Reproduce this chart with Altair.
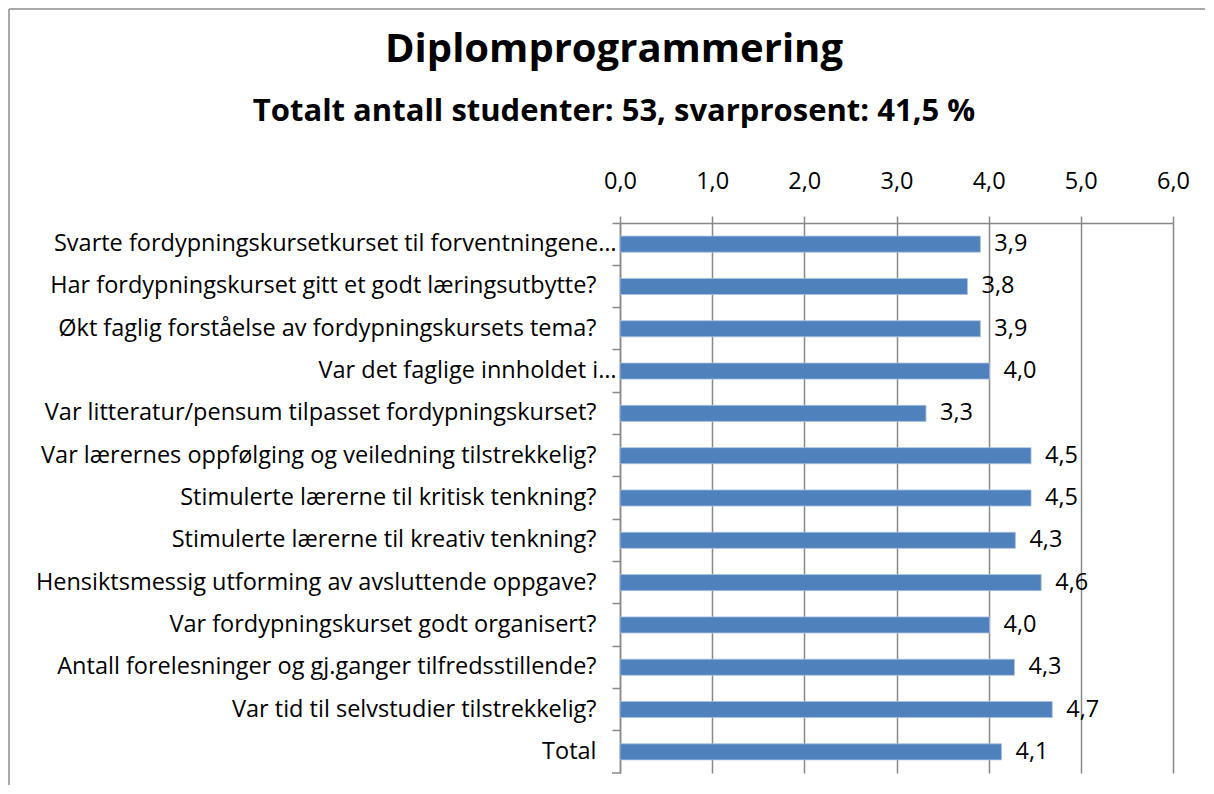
import altair as alt
import pandas as pd

questions = [
    "Svarte fordypningskursetkurset til forventningene…",
    "Har fordypningskurset gitt et godt læringsutbytte?",
    "Økt faglig forståelse av fordypningskursets tema?",
    "Var det faglige innholdet i…",
    "Var litteratur/pensum tilpasset fordypningskurset?",
    "Var lærernes oppfølging og veiledning tilstrekkelig?",
    "Stimulerte lærerne til kritisk tenkning?",
    "Stimulerte lærerne til kreativ tenkning?",
    "Hensiktsmessig utforming av avsluttende oppgave?",
    "Var fordypningskurset godt organisert?",
    "Antall forelesninger og gj.ganger tilfredsstillende?",
    "Var tid til selvstudier tilstrekkelig?",
    "Total",
]
scores = [3.91, 3.77, 3.91, 4.01, 3.32, 4.46, 4.46, 4.29, 4.57, 4.01, 4.28, 4.69, 4.14]
score_labels = ["3,9", "3,8", "3,9", "4,0", "3,3", "4,5", "4,5", "4,3", "4,6", "4,0", "4,3", "4,7", "4,1"]
tick_values = [0, 1, 2, 3, 4, 5, 6]

title_text = "Diplomprogrammering"
subtitle_text = "Totalt antall studenter: 53, svarprosent: 41,5 %"

FONT = "Open Sans"
GRID = "#898989"
BORDER = "#8c8c8c"
BAR = "#4F81BD"
FS = 23.5

df = pd.DataFrame({"question": questions, "score": scores, "label": score_labels})

x_enc = alt.X(
    "score:Q",
    scale=alt.Scale(domain=[0, 6], nice=False, zero=True),
    axis=alt.Axis(
        orient="top",
        values=tick_values,
        labelExpr="replace(format(datum.value, '.1f'), '.', ',')",
        title=None,
        grid=True,
        gridColor=GRID,
        gridWidth=1.5,
        gridOpacity=1,
        domainColor=GRID,
        domainWidth=1.5,
        tickColor=GRID,
        tickWidth=1.5,
        tickSize=7,
        labelFontSize=FS,
        labelFont=FONT,
        labelColor="black",
        labelPadding=23,
        labelFlush=False,
        labelOverlap=False,
    ),
)

y_enc = alt.Y(
    "question:N",
    sort=questions,
    scale=alt.Scale(paddingInner=0, paddingOuter=0),
    axis=alt.Axis(
        title=None,
        bandPosition=0,
        tickSize=8,
        tickColor=GRID,
        tickWidth=1.5,
        domainColor=GRID,
        domainWidth=1.5,
        labelPadding={"condition": {"test": "indexof(datum.label, '…') >= 0", "value": -4}, "value": 16},
        labelLimit=800,
        labelFontSize=FS,
        labelFont=FONT,
        labelColor="black",
        grid=False,
    ),
)

base = alt.Chart(df)

bars = base.mark_bar(
    height={"band": 0.38}, color=BAR, stroke="#A9C1DF", strokeWidth=0.8
).encode(x=x_enc, y=y_enc)

texts = base.mark_text(
    align="left", baseline="middle", dx=14, fontSize=FS, font=FONT, color="black"
).encode(x="score:Q", y=alt.Y("question:N", sort=questions), text="label:N")

frame_data = alt.Data(values=[{"k": 1}])
left_border = alt.Chart(frame_data).mark_rule(color=BORDER, strokeWidth=1.5).encode(
    x=alt.value(-611), y=alt.value(-214), y2=alt.value(562)
)
top_border = alt.Chart(frame_data).mark_rule(color=BORDER, strokeWidth=1.5).encode(
    x=alt.value(-611), x2=alt.value(585), y=alt.value(-214)
)
bottom_tick = alt.Chart(frame_data).mark_rule(color=GRID, strokeWidth=1.5).encode(
    x=alt.value(-8), x2=alt.value(0), y=alt.value(550)
)

chart = (
    alt.layer(bars, texts, left_border, top_border, bottom_tick)
    .properties(
        width=553,
        height=550,
        padding=0,
        title=alt.TitleParams(
            text=title_text,
            subtitle=subtitle_text,
            anchor="middle",
            frame="bounds",
            dx=7,
            offset=-119,
            font=FONT,
            fontSize=40,
            fontWeight="bold",
            color="black",
            subtitleFont=FONT,
            subtitleFontSize=31,
            subtitleFontWeight="bold",
            subtitleColor="black",
            subtitlePadding=27,
        ),
    )
    .configure_view(strokeWidth=0)
)

chart.save("out.html", embed_options={"renderer": "svg", "actions": False})
